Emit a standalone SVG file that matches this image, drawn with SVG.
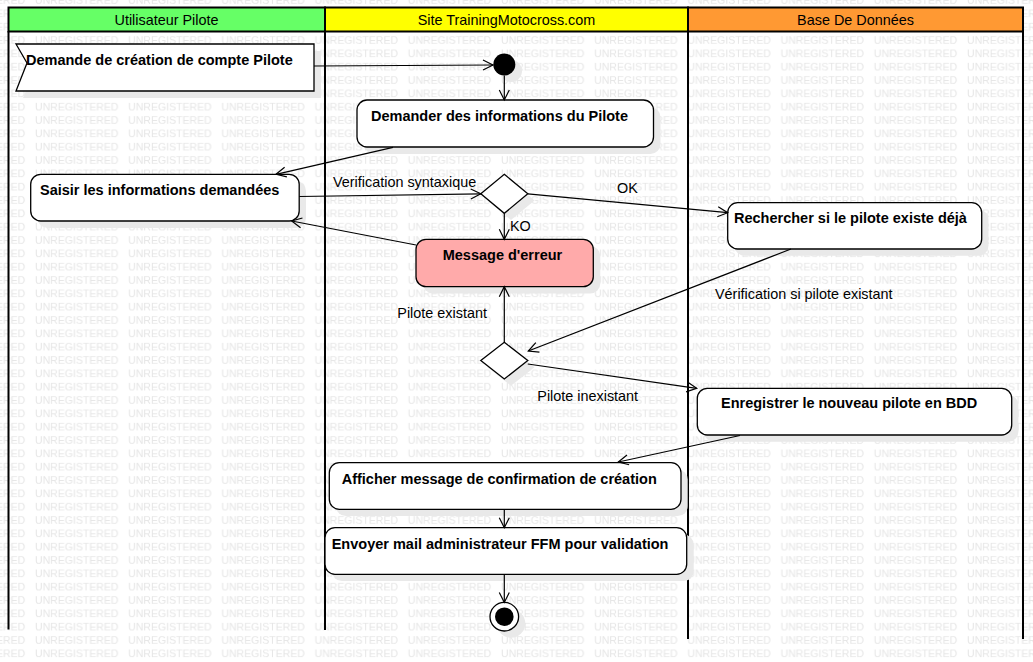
<svg xmlns="http://www.w3.org/2000/svg" width="1033" height="662" viewBox="0 0 1033 662">
<style>
.wm{font-family:"Liberation Sans",Arial,sans-serif;font-size:10.5px;fill:#e6e6e6}
.hdr{font-family:"Liberation Sans",Arial,sans-serif;font-size:14.4px;fill:#000;text-anchor:middle}
.lbl{font-family:"Liberation Sans",Arial,sans-serif;font-size:14.4px;fill:#000}
.nt{font-family:"Liberation Sans",Arial,sans-serif;font-size:14.5px;font-weight:bold;fill:#000}
.box{fill:#fff;stroke:#000;stroke-width:1.3}
.shd{fill:#e9e9e9;stroke:none}
.lane{stroke:#000;stroke-width:2;fill:none}
.edge{stroke:#000;stroke-width:1.2;fill:none;marker-end:url(#arr)}
</style>
<defs>
<pattern id="wmp" patternUnits="userSpaceOnUse" x="35" y="-6.667" width="93.2" height="13.333">
<text class="wm" x="0" y="10.4">UNREGISTERED</text>
</pattern>
<marker id="arr" markerUnits="userSpaceOnUse" markerWidth="14" markerHeight="14" refX="11" refY="6" orient="auto">
<path d="M1,1 L11,6 L1,11" fill="none" stroke="#000" stroke-width="1.2"/>
</marker>
</defs>
<rect x="0" y="0" width="1033" height="662" fill="#fff"/>
<rect x="0" y="0" width="1033" height="662" fill="url(#wmp)"/>

<g id="lanes">
<rect x="8.5" y="7.5" width="316.5" height="24" fill="#66FF66" stroke="#000" stroke-width="2"/>
<rect x="325" y="7.5" width="363" height="24" fill="#FFFF00" stroke="#000" stroke-width="2"/>
<rect x="688" y="7.5" width="335" height="24" fill="#FF9933" stroke="#000" stroke-width="2"/>
<text class="hdr" x="166.5" y="25">Utilisateur Pilote</text>
<text class="hdr" x="506.5" y="25">Site TrainingMotocross.com</text>
<text class="hdr" x="855.5" y="25">Base De Données</text>
<line class="lane" x1="8.5" y1="31" x2="8.5" y2="629.5"/>
<line class="lane" x1="325" y1="31" x2="325" y2="630"/>
<line class="lane" x1="688" y1="31" x2="688" y2="639"/>
<line class="lane" x1="1023" y1="31" x2="1023" y2="639"/>
</g>

<g id="n-demande">
<polygon class="shd" points="23,51 321,51 321,98 23,98 34,71"/>
<polygon class="box" points="16,44 314,44 314,91 16,91 27,63"/>
<text class="nt" x="26" y="64.5">Demande de création de compte Pilote</text>
</g>

<g id="n-initial">
<circle class="shd" cx="511" cy="71" r="11"/>
<circle cx="504.3" cy="64.5" r="11" fill="#000"/>
</g>

<g id="n-demander">
<rect class="shd" x="364" y="107" width="296.5" height="47" rx="10"/>
<rect class="box" x="357" y="100" width="296.5" height="47" rx="10"/>
<text class="nt" x="371" y="121">Demander des informations du Pilote</text>
</g>

<g id="n-saisir">
<rect class="shd" x="37.5" y="181" width="268.5" height="47" rx="10"/>
<rect class="box" x="30.7" y="174.3" width="268.5" height="46.7" rx="10"/>
<text class="nt" x="40" y="194.5">Saisir les informations demandées</text>
</g>

<g id="n-dec1">
<polygon class="shd" points="511,181 534.5,200.5 511,220 487.5,200.5"/>
<polygon class="box" points="504.3,174.3 527.8,193.8 504.3,213.3 480.8,193.8"/>
</g>

<g id="n-erreur">
<rect class="shd" x="423" y="246" width="177.3" height="47.4" rx="10"/>
<rect x="416" y="239.3" width="177.3" height="47.4" rx="10" fill="#FFAAAA" stroke="#000" stroke-width="1.3"/>
<text class="nt" x="442.7" y="260">Message d'erreur</text>
</g>

<g id="n-rechercher">
<rect class="shd" x="734.5" y="209.5" width="254" height="46.3" rx="10"/>
<rect class="box" x="727.7" y="202.7" width="254" height="46.3" rx="10"/>
<text class="nt" x="734" y="223">Rechercher si le pilote existe déjà</text>
</g>

<g id="n-dec2">
<polygon class="shd" points="511,349 534.5,367.3 511,385.7 487.5,367.3"/>
<polygon class="box" points="504.3,342.3 527.8,360.6 504.3,379 480.8,360.6"/>
</g>

<g id="n-enregistrer">
<rect class="shd" x="704" y="395" width="314.4" height="46.7" rx="10"/>
<rect class="box" x="697.3" y="388.3" width="314.4" height="46.7" rx="10"/>
<text class="nt" x="721" y="407.5">Enregistrer le nouveau pilote en BDD</text>
</g>

<g id="n-afficher">
<rect class="shd" x="336" y="469.5" width="351.7" height="46.6" rx="10"/>
<rect class="box" x="329.3" y="462.7" width="351.7" height="46.6" rx="10"/>
<text class="nt" x="341.7" y="483.5">Afficher message de confirmation de création</text>
</g>

<g id="n-envoyer">
<rect class="shd" x="332" y="534.5" width="361.7" height="46.6" rx="10"/>
<rect class="box" x="325" y="527.7" width="361.7" height="46.6" rx="10"/>
<text class="nt" x="331.7" y="549">Envoyer mail administrateur FFM pour validation</text>
</g>

<g id="n-final">
<circle class="shd" cx="511" cy="623.5" r="14.3"/>
<circle cx="504.3" cy="616.7" r="14.3" fill="#fff" stroke="#000" stroke-width="1.3"/>
<circle cx="504.3" cy="616.7" r="9.3" fill="#000"/>
</g>

<g id="connectors">
<line class="edge" x1="314" y1="66" x2="493" y2="65"/>
<line class="edge" x1="504.3" y1="75.5" x2="504.3" y2="100"/>
<line class="edge" x1="393" y1="147.3" x2="276" y2="174.3"/>
<line class="edge" x1="299.2" y1="196.5" x2="480.8" y2="193.8"/>
<line class="edge" x1="527.8" y1="193.8" x2="727.7" y2="212.7"/>
<line class="edge" x1="504.3" y1="213.3" x2="504.3" y2="239.3"/>
<line class="edge" x1="416" y1="245" x2="291.7" y2="221"/>
<line class="edge" x1="791" y1="249" x2="528.3" y2="351"/>
<line class="edge" x1="504.3" y1="342.3" x2="504.3" y2="286.7"/>
<line class="edge" x1="527.8" y1="364" x2="696.7" y2="388.3"/>
<line class="edge" x1="740" y1="435.5" x2="618.3" y2="462"/>
<line class="edge" x1="504.3" y1="509.3" x2="504.3" y2="527.7"/>
<line class="edge" x1="504.3" y1="574.3" x2="504.3" y2="602.4"/>
<text class="lbl" x="333" y="186.5">Verification syntaxique</text>
<text class="lbl" x="617" y="193">OK</text>
<text class="lbl" x="510" y="231">KO</text>
<text class="lbl" x="715" y="299">Vérification si pilote existant</text>
<text class="lbl" x="397.3" y="317.7">Pilote existant</text>
<text class="lbl" x="537.3" y="400.7">Pilote inexistant</text>
</g>
</svg>
